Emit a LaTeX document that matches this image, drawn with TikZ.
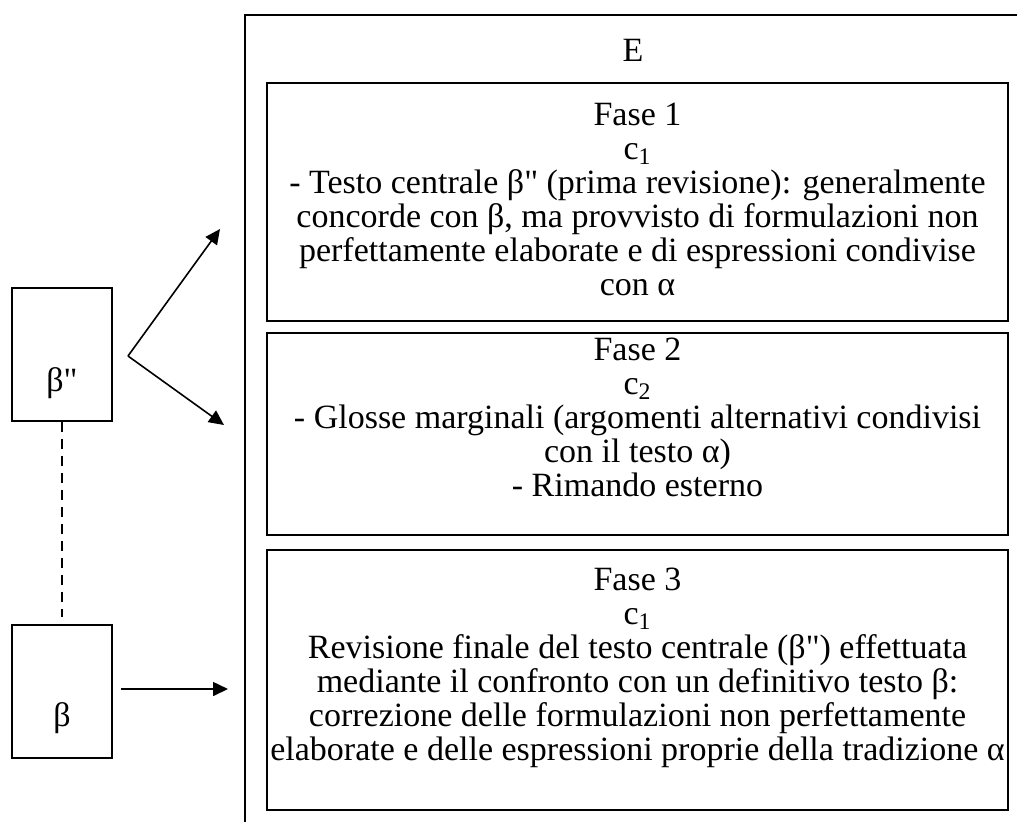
\documentclass[tikz,border=0pt]{standalone}
\usepackage{fontspec}
\setmainfont{Liberation Serif}[Ligatures=TeXOff]
\usetikzlibrary{arrows.meta, positioning}

\begin{document}
\begin{tikzpicture}[
    x=0.5pt, y=-0.5pt,
    frame/.style={rectangle, draw, line width=1pt, minimum width=392.5pt, minimum height=412.5pt},
    phase/.style={rectangle, draw, line width=0.8pt, minimum width=370.5pt, inner sep=0pt},
    source/.style={rectangle, draw, line width=0.8pt, minimum width=50pt, minimum height=66.5pt},
    txt/.style={align=center, font=\fontsize{17pt}{17pt}\selectfont, inner sep=0pt},
    arrow/.style={line width=0.8pt, -{Triangle[length=7.5pt, width=7pt]}}
]
\clip (0,0) rectangle (1017,821);
% outer frame E
\node[frame] (outer) at (637.5,427.5) {};
\node[txt] (etitle) at (633,50) {E};
% phases
\node[phase, minimum height=119pt] (ph1) at (637.5,202) {};
\node[phase, minimum height=101pt] (ph2) at (637.5,434) {};
\node[phase, minimum height=130pt] (ph3) at (637.5,680) {};
\node[txt, anchor=north, below=10pt of ph1.north] (t1) {Fase 1\\
    c\textsubscript{1}\\
    - Testo centrale β" (prima revisione): generalmente\\
    concorde con β, ma provvisto di formulazioni non\\
    perfettamente elaborate e di espressioni condivise\\
    con α};
\node[txt, anchor=north, below=2.5pt of ph2.north] (t2) {Fase 2\\
    c\textsubscript{2}\\
    - Glosse marginali (argomenti alternativi condivisi\\
    con il testo α)\\
    - Rimando esterno};
\node[txt, anchor=north, below=9pt of ph3.north] (t3) {Fase 3\\
    c\textsubscript{1}\\
    Revisione finale del testo centrale (β") effettuata\\
    mediante il confronto con un definitivo testo β:\\
    correzione delle formulazioni non perfettamente\\
    elaborate e delle espressioni proprie della tradizione α};
% sources
\node[source] (b2) at (62,354.5) {};
\node[txt] (b2t) at (62,383) {β"};
\node[source] (b1) at (62,691.5) {};
\node[txt] (b1t) at (62,718) {β};
\coordinate (dashend) at (62,617);
\draw[line width=0.8pt, dash pattern=on 5pt off 3.5pt] (b2.south) -- (dashend);
% arrows
\coordinate (fork) at (128,356);
\coordinate (up) at (220,229);
\coordinate (down) at (224,425);
\coordinate (bstart) at (121,689);
\coordinate (bend) at (228,689);
\draw[arrow] (fork) -- (up);
\draw[arrow] (fork) -- (down);
\draw[arrow] (bstart) -- (bend);
\end{tikzpicture}
\end{document}
